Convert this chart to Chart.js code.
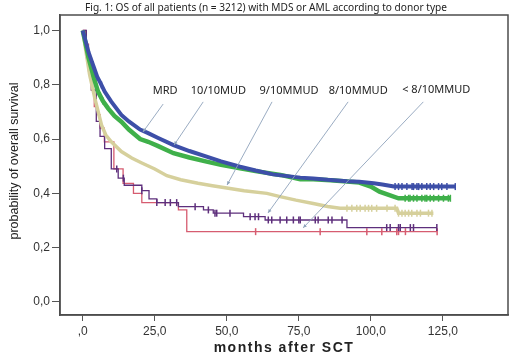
<!DOCTYPE html>
<html>
<head>
<meta charset="utf-8">
<script src="https://cdn.jsdelivr.net/npm/chart.js@4.4.1/dist/chart.umd.min.js"></script>
<style>
  html, body { margin: 0; padding: 0; background: #fff; }
</style>
</head>
<body>
<canvas id="os" width="520" height="357"></canvas>
<script>
// ===== values =====
const xTicks = [0, 25, 50, 75, 100, 125];
const xTickLabels = [",0", "25,0", "50,0", "75,0", "100,0", "125,0"];
const yTicks = [0, 0.2, 0.4, 0.6, 0.8, 1.0];
const yTickLabels = ["0,0", "0,2", "0,4", "0,6", "0,8", "1,0"];

const groups = ["MRD", "10/10MUD", "9/10MMUD", "8/10MMUD", "< 8/10MMUD"];

// MRD (blue)
const mrdMonths = [0, 1, 2, 3, 4, 5, 6, 7.6, 9.9, 13.4, 16, 19.9, 22.7, 26, 31.5, 37, 43, 48, 54.6, 60, 66, 75.5, 80, 85, 91.7, 96, 101, 104, 108, 129.3];
const mrdSurv = [1.0, 0.96, 0.92, 0.89, 0.86, 0.83, 0.81, 0.775, 0.738, 0.689, 0.665, 0.635, 0.622, 0.605, 0.578, 0.556, 0.535, 0.518, 0.498, 0.484, 0.47, 0.458, 0.455, 0.45, 0.445, 0.443, 0.437, 0.433, 0.425, 0.425];
const mrdCensor = [3.5, 5, 6.5, 108.4, 109.6, 110.8, 112.5, 114.3, 114.8, 116, 116.6, 117.7, 119.4, 120.6, 121.8, 123.5, 124.6, 126.4, 129.3];

// 10/10 MUD (green)
const mudMonths = [0, 1, 2, 3, 4, 5.3, 7, 8.8, 11, 13.4, 16, 19.9, 22.7, 26, 31.5, 37, 43, 48, 54.6, 60, 68.6, 75.5, 80, 86, 91.7, 96, 100, 103, 109.6, 127.8];
const mudSurv = [1.0, 0.95, 0.9, 0.86, 0.82, 0.775, 0.74, 0.713, 0.685, 0.664, 0.635, 0.6, 0.59, 0.575, 0.548, 0.532, 0.517, 0.505, 0.492, 0.482, 0.468, 0.452, 0.452, 0.448, 0.444, 0.44, 0.425, 0.406, 0.382, 0.382];
const mudCensor = [5, 7, 111.9, 113.1, 113.6, 114.8, 116, 117.7, 118.8, 119.4, 120.6, 121.8, 123.5, 125.2, 126.9, 127.6];

// 9/10 MMUD (khaki)
const mm9Months = [0, 1, 2.4, 4.2, 6.5, 8, 9.9, 13.4, 17, 20.5, 25, 29.2, 34, 40, 45, 50, 56, 63.9, 68.5, 74, 80, 85, 89.3, 100, 109, 109.6, 121.7];
const mm9Surv = [1.0, 0.93, 0.836, 0.75, 0.652, 0.615, 0.59, 0.554, 0.53, 0.512, 0.49, 0.465, 0.45, 0.437, 0.428, 0.42, 0.41, 0.4, 0.388, 0.375, 0.363, 0.352, 0.345, 0.345, 0.345, 0.327, 0.327];
const mm9Censor = [91.7, 93.4, 95.1, 96.3, 98, 99.2, 100.3, 102, 105.6, 108.4, 109.6, 110.8, 111.9, 113.1, 114.2, 116, 117.2, 120, 121.2];

// 8/10 MMUD (purple)
const mm8Months = [0, 1.25, 3, 4.7, 6, 7.6, 9.9, 12.3, 14.4, 20.5, 23, 25.7, 33.2, 41.9, 45.3, 55.8, 63.3, 91.7, 122.9];
const mm8Surv = [1.0, 0.9, 0.78, 0.665, 0.61, 0.565, 0.49, 0.456, 0.43, 0.41, 0.38, 0.366, 0.351, 0.339, 0.327, 0.314, 0.302, 0.274, 0.274];
const mm8Censor = [11.8, 14.1, 20.5, 25.7, 28.6, 30.4, 32.6, 39, 43.6, 45.9, 46.5, 51.1, 58.1, 59.8, 61, 64.4, 65.6, 68.5, 70.8, 73.1, 75, 75.5, 80.7, 81.7, 85.2, 86.5, 90, 105.5, 106.7, 109.6, 110.2, 113.7, 114.8, 122.9];

// < 8/10 MMUD (red)
const mmLowMonths = [0, 1, 2, 3, 4, 5, 6, 7.5, 10.8, 14, 17.6, 20.5, 33.2, 36.1, 123];
const mmLowSurv = [1.0, 0.95, 0.85, 0.78, 0.72, 0.69, 0.64, 0.59, 0.49, 0.437, 0.4, 0.366, 0.339, 0.259, 0.259];
const mmLowCensor = [60, 82.4, 98.6, 103.8, 109, 109.6, 112, 123];

// label text + leader line (data units)
const notes = [
  { text: groups[0], at: [28.6, 0.777], from: [27.9, 0.729], to: [20.9, 0.626] },
  { text: groups[1], at: [47.1, 0.777], from: [41.8, 0.737], to: [31.7, 0.578] },
  { text: groups[2], at: [71.6, 0.777], from: [65.7, 0.737], to: [50.1, 0.431] },
  { text: groups[3], at: [95.6, 0.777], from: [92.1, 0.737], to: [64.3, 0.328] },
  { text: groups[4], at: [122.7, 0.781], from: [118.2, 0.737], to: [76.5, 0.273] },
];

const toPoints = (ms, vs) => ms.map((m, i) => ({ x: m, y: vs[i] }));

// place a censor tick on the curve at month t
function onCurve(ms, vs, cens, stepped) {
  return cens.map((t) => {
    let i = 0;
    while (i < ms.length - 1 && ms[i + 1] <= t) i++;
    let y = vs[i];
    if (!stepped && i < ms.length - 1) {
      const f = (t - ms[i]) / (ms[i + 1] - ms[i]);
      y = vs[i] + f * (vs[i + 1] - vs[i]);
    }
    return { x: t, y };
  });
}

function curve(label, ms, vs, color, width, stepped, order) {
  return {
    label, data: toPoints(ms, vs), borderColor: color, borderWidth: width,
    pointRadius: 0, tension: 0, stepped: stepped, fill: false, order,
  };
}

function censors(ms, vs, cens, color, stepped, order) {
  return {
    data: onCurve(ms, vs, cens, stepped), showLine: false, pointStyle: "line", rotation: 90,
    pointRadius: 3.5, pointBorderWidth: 1.5, pointBorderColor: color, pointBackgroundColor: color, order,
  };
}

const blue = "#3d4fa8", green = "#3fb04a", khaki = "#d6d09c", purple = "#5e2f7c", red = "#d65c70";

const datasets = [
  censors(mrdMonths, mrdSurv, mrdCensor, blue, false, 0),
  curve(groups[0], mrdMonths, mrdSurv, blue, 4, false, 1),
  censors(mudMonths, mudSurv, mudCensor, green, false, 2),
  curve(groups[1], mudMonths, mudSurv, green, 4.5, false, 3),
  censors(mm9Months, mm9Surv, mm9Censor, khaki, false, 4),
  curve(groups[2], mm9Months, mm9Surv, khaki, 3.5, false, 5),
  censors(mm8Months, mm8Surv, mm8Censor, purple, true, 6),
  curve(groups[3], mm8Months, mm8Surv, purple, 1.3, true, 7),
  censors(mmLowMonths, mmLowSurv, mmLowCensor, red, true, 8),
  curve(groups[4], mmLowMonths, mmLowSurv, red, 1.3, true, 9),
];

// frame, titles, labels and leader lines
const decor = {
  id: "decor",
  afterDraw(chart) {
    const { ctx, chartArea: a, scales: { x, y } } = chart;
    ctx.save();
    ctx.strokeStyle = "#4d4d4d";
    ctx.lineWidth = 1.5;
    ctx.strokeRect(a.left, a.top, a.right - a.left, a.bottom - a.top);

    ctx.fillStyle = "#222";
    ctx.textAlign = "center";
    ctx.textBaseline = "middle";
    ctx.font = "11px 'Noto Sans'";
    ctx.fillText("Fig. 1: OS of all patients (n = 3212) with MDS or AML according to donor type", 266, 7.5, 362);

    ctx.font = "bold 14px 'Liberation Sans'";
    ctx.letterSpacing = "1.5px";
    ctx.fillText("months after SCT", 284, 348, 146);
    ctx.letterSpacing = "0px";

    ctx.save();
    ctx.translate(15, 161);
    ctx.rotate(-Math.PI / 2);
    ctx.font = "12.5px 'Liberation Sans Narrow', 'Liberation Sans'";
    ctx.fillText("probability of overall survival", 0, 0, 162);
    ctx.restore();

    ctx.font = "11px 'Noto Sans'";
    ctx.strokeStyle = "#8ea3bb";
    ctx.fillStyle = "#222";
    ctx.lineWidth = 0.9;
    notes.forEach((n) => {
      ctx.fillText(n.text, x.getPixelForValue(n.at[0]), y.getPixelForValue(n.at[1]));
      const x0 = x.getPixelForValue(n.from[0]), y0 = y.getPixelForValue(n.from[1]);
      const x1 = x.getPixelForValue(n.to[0]), y1 = y.getPixelForValue(n.to[1]);
      ctx.beginPath(); ctx.moveTo(x0, y0); ctx.lineTo(x1, y1); ctx.stroke();
      const ang = Math.atan2(y1 - y0, x1 - x0);
      ctx.beginPath();
      ctx.moveTo(x1, y1);
      ctx.lineTo(x1 - 4 * Math.cos(ang - 0.45), y1 - 4 * Math.sin(ang - 0.45));
      ctx.lineTo(x1 - 4 * Math.cos(ang + 0.45), y1 - 4 * Math.sin(ang + 0.45));
      ctx.closePath();
      ctx.fillStyle = "#8ea3bb"; ctx.fill(); ctx.fillStyle = "#222";
    });
    ctx.restore();
  },
};

const tickFont = { family: "'Liberation Sans'", size: 12 };

new Chart(document.getElementById("os"), {
  type: "line",
  data: { datasets },
  options: {
    responsive: false,
    animation: false,
    parsing: true,
    layout: { padding: { top: 15, right: 12, left: 0, bottom: 0 } },
    plugins: { legend: { display: false }, tooltip: { enabled: false }, title: { display: false } },
    scales: {
      x: {
        type: "linear", min: -7.9, max: 147.6,
        afterBuildTicks: (s) => { s.ticks = xTicks.map((v) => ({ value: v })); },
        afterFit: (s) => { s.height = 42; },
        grid: { drawOnChartArea: false, drawTicks: true, tickLength: 6, color: "#555", lineWidth: 1 },
        border: { display: true, color: "#4d4d4d", width: 1.5 },
        ticks: { callback: (v) => xTickLabels[xTicks.indexOf(v)], font: tickFont, color: "#333", padding: 3, maxRotation: 0, autoSkip: false },
      },
      y: {
        type: "linear", min: -0.048, max: 1.057,
        afterBuildTicks: (s) => { s.ticks = yTicks.map((v) => ({ value: v })); },
        afterFit: (s) => { s.width = 60; },
        grid: { drawOnChartArea: false, drawTicks: true, tickLength: 8, color: "#555", lineWidth: 1 },
        border: { display: true, color: "#4d4d4d", width: 1.5 },
        ticks: { callback: (v) => yTickLabels[yTicks.indexOf(v)], font: tickFont, color: "#333", padding: 2, autoSkip: false },
      },
    },
  },
  plugins: [decor],
});
</script>
</body>
</html>
